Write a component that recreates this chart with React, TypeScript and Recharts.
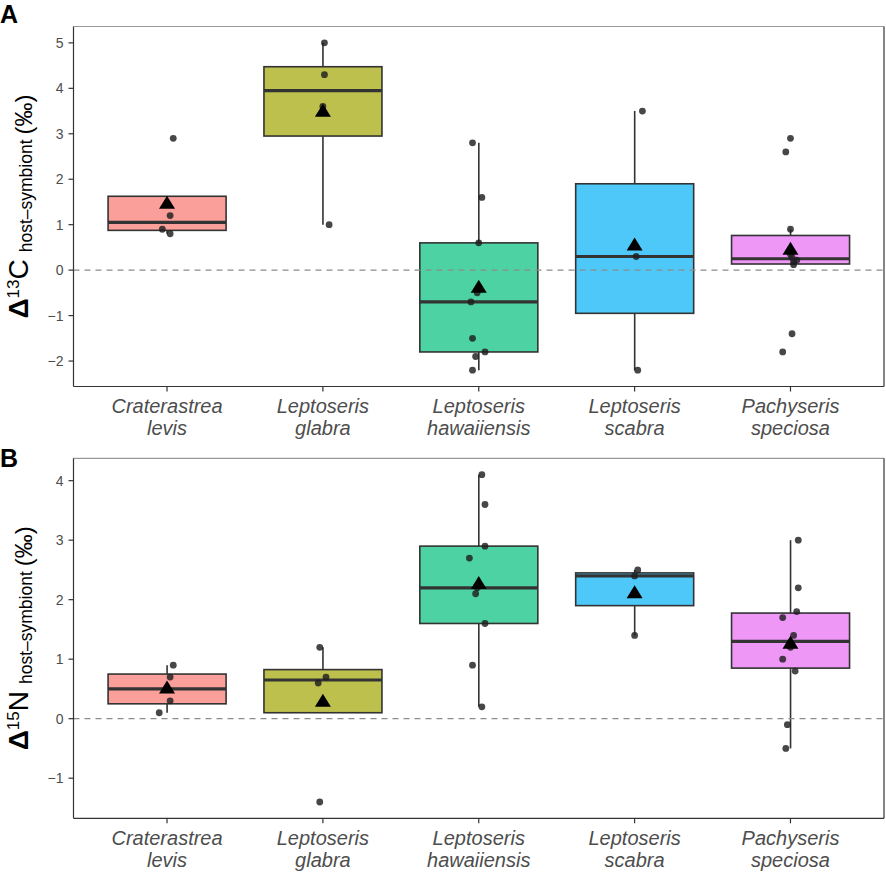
import React from "react";
import { ComposedChart, Bar, Scatter, XAxis, YAxis, ReferenceLine } from "recharts";

// species on the x axis (genus / epithet, printed on two lines)
const GENUS = ["Craterastrea", "Leptoseris", "Leptoseris", "Leptoseris", "Pachyseris"];
const EPITHET = ["levis", "glabra", "hawaiiensis", "scabra", "speciosa"];
const BOX_FILLS = ["#FA9F99", "#BEC04D", "#4DD2A4", "#4DC8F9", "#EE97F7"];
const X_TICKS = [1, 2, 3, 4, 5];

// panel A: Δ13C host-symbiont, one list of samples per species
const C13_VALUES = [
  [2.9, 1.2, 0.9, 0.8],
  [5.0, 4.3, 3.6, 1.0],
  [2.8, 1.6, 0.6, -0.5, -0.7, -1.5, -1.8, -1.9, -2.2],
  [3.5, 0.3, -2.2],
  [2.9, 2.6, 0.9, 0.35, 0.28, 0.22, 0.18, 0.12, -1.4, -1.8],
];
// horizontal jitter of each sample, in category units
const C13_JITTER = [
  [0.04, 0.02, -0.03, 0.02],
  [0.01, 0.01, 0, 0.04],
  [-0.04, 0.02, 0, -0.01, -0.05, -0.04, 0.04, -0.02, -0.04],
  [0.05, 0.01, 0.02],
  [0, -0.03, 0, 0, 0.01, 0.04, 0.02, 0.02, 0.01, -0.05],
];
const C13_TICKS = [-2, -1, 0, 1, 2, 3, 4, 5];

// panel B: Δ15N host-symbiont
const N15_VALUES = [
  [0.9, 0.7, 0.3, 0.1],
  [1.2, 0.7, 0.6, -1.4],
  [4.1, 3.6, 2.9, 2.7, 2.2, 2.1, 1.6, 0.9, 0.2],
  [2.5, 2.4, 1.4],
  [3.0, 2.2, 1.8, 1.7, 1.4, 1.2, 1.0, 0.8, -0.1, -0.5],
];
const N15_JITTER = [
  [0.04, 0.02, 0.02, -0.05],
  [-0.02, 0.02, -0.03, -0.02],
  [0.02, 0.04, 0.04, -0.06, -0.01, -0.02, 0.04, -0.04, 0.02],
  [0.02, 0, 0],
  [0.05, 0.05, 0.04, -0.05, 0.02, 0, -0.05, 0.03, -0.02, -0.03],
];
const N15_TICKS = [-1, 0, 1, 2, 3, 4];

const FONT = "'Liberation Sans', Arial, Helvetica, sans-serif";
const INK = "#333333";
const TEXT_GREY = "#4D4D4D";

function quantile(sorted: number[], p: number) {
  const h = (sorted.length - 1) * p;
  const lo = Math.floor(h);
  const hi = Math.ceil(h);
  return sorted[lo] + (h - lo) * (sorted[hi] - sorted[lo]);
}

// same stats as geom_boxplot (type 7 quantiles, 1.5 IQR whiskers)
function buildBoxes(values: number[][]) {
  return values.map((vals, i) => {
    const s = [...vals].sort((a, b) => a - b);
    const q1 = quantile(s, 0.25);
    const med = quantile(s, 0.5);
    const q3 = quantile(s, 0.75);
    const iqr = q3 - q1;
    const inside = s.filter((v) => v >= q1 - 1.5 * iqr && v <= q3 + 1.5 * iqr);
    const wlo = inside[0];
    const whi = inside[inside.length - 1];
    const mean = s.reduce((a, b) => a + b, 0) / s.length;
    return {
      x: i + 1,
      q1,
      med,
      q3,
      wlo,
      whi,
      mean,
      fill: BOX_FILLS[i],
      range: [Math.min(wlo, q1), Math.max(whi, q3)],
    };
  });
}

function buildPoints(values: number[][], jitter: number[][]) {
  const out: { x: number; y: number }[] = [];
  values.forEach((vals, i) => {
    vals.forEach((v, j) => out.push({ x: i + 1 + jitter[i][j], y: v }));
  });
  return out;
}

function BoxShape(props: any) {
  const { x, y, width, height, payload } = props;
  const [lo, hi] = payload.range;
  const top = Math.min(y, y + height);
  const h = Math.abs(height);
  const py = (v: number) => top + ((hi - v) / (hi - lo)) * h;
  const cx = x + width / 2;
  return (
    <g>
      <line x1={cx} x2={cx} y1={py(payload.whi)} y2={py(payload.q3)} stroke={INK} strokeWidth={1.6} />
      <line x1={cx} x2={cx} y1={py(payload.q1)} y2={py(payload.wlo)} stroke={INK} strokeWidth={1.6} />
      <rect
        x={x}
        y={py(payload.q3)}
        width={width}
        height={py(payload.q1) - py(payload.q3)}
        fill={payload.fill}
        stroke={INK}
        strokeWidth={1.6}
      />
      <line x1={x} x2={x + width} y1={py(payload.med)} y2={py(payload.med)} stroke={INK} strokeWidth={3.2} />
    </g>
  );
}

function DotShape(props: any) {
  const { cx, cy } = props;
  return <circle cx={cx} cy={cy} r={3.4} fill="#1f1f1f" fillOpacity={0.82} />;
}

function TriangleShape(props: any) {
  const { cx, cy } = props;
  return <polygon points={`${cx - 8},${cy + 4.5} ${cx + 8},${cy + 4.5} ${cx},${cy - 8.5}`} fill="#000" />;
}

function SpeciesTick(props: any) {
  const { x, y, payload } = props;
  const i = Math.round(payload.value) - 1;
  return (
    <text x={x} y={y} textAnchor="middle" fontStyle="italic" fontSize={20} fill={TEXT_GREY} fontFamily={FONT}>
      <tspan x={x} dy={19.5}>{GENUS[i]}</tspan>
      <tspan x={x} dy={22}>{EPITHET[i]}</tspan>
    </text>
  );
}

function YLabel(props: any) {
  const { cy, iso, element } = props;
  return (
    <text
      transform={`translate(28,${cy}) rotate(-90)`}
      textAnchor="middle"
      fontFamily={FONT}
      fill="#000"
    >
      <tspan fontWeight="bold" fontSize={28}>Δ</tspan>
      <tspan fontSize={17} dy={-9}>{iso}</tspan>
      <tspan fontSize={28} dy={9}>{element}</tspan>
      <tspan fontSize={17.5} dy={4} dx={7}>host–symbiont</tspan>
      <tspan fontSize={24} dx={5}>(‰)</tspan>
    </text>
  );
}

const fmt = (v: number) => String(v).replace("-", "−");

function Panel(props: {
  values: number[][];
  jitter: number[][];
  domain: [number, number];
  ticks: number[];
  iso: string;
  element: string;
  height: number;
  top: number;
  xAxisHeight: number;
}) {
  const boxes = buildBoxes(props.values);
  const points = buildPoints(props.values, props.jitter);
  const means = boxes.map((b) => ({ x: b.x, y: b.mean }));
  const plotMid = props.top + 1 + (props.height - props.top - 1 - props.xAxisHeight) / 2;
  return (
    <ComposedChart
      width={886}
      height={props.height}
      data={boxes}
      margin={{ top: props.top, right: 1, bottom: 0, left: 0 }}
    >
      <XAxis
        dataKey="x"
        type="number"
        domain={[0.4, 5.6]}
        ticks={X_TICKS}
        allowDataOverflow
        height={props.xAxisHeight}
        axisLine={{ stroke: INK, strokeWidth: 1.2 }}
        tickLine={{ stroke: INK, strokeWidth: 1.2 }}
        tickSize={5}
        tick={<SpeciesTick />}
        interval={0}
      />
      {/* points live on a hidden twin axis so the box band width stays one category */}
      <XAxis
        xAxisId="pts"
        dataKey="x"
        orientation="top"
        type="number"
        domain={[0.4, 5.6]}
        allowDataOverflow
        height={1}
        tick={false}
        tickLine={false}
        axisLine={{ stroke: "#9a9a9a", strokeWidth: 1.2 }}
      />
      <YAxis
        type="number"
        domain={props.domain}
        ticks={props.ticks}
        allowDataOverflow
        width={73.5}
        tickSize={5}
        tickMargin={5}
        tickFormatter={fmt}
        axisLine={{ stroke: INK, strokeWidth: 1.2 }}
        tickLine={{ stroke: INK, strokeWidth: 1.2 }}
        tick={{ fill: TEXT_GREY, fontSize: 14, fontFamily: FONT }}
        interval={0}
        label={<YLabel cy={plotMid} iso={props.iso} element={props.element} />}
      />
      <YAxis
        yAxisId="right"
        orientation="right"
        type="number"
        domain={props.domain}
        width={1}
        tick={false}
        tickLine={false}
        axisLine={{ stroke: INK, strokeWidth: 1.2 }}
      />
      <Bar dataKey="range" barSize={118} shape={<BoxShape />} isAnimationActive={false} />
      <ReferenceLine y={0} stroke="#8c8c8c" strokeWidth={1.2} strokeDasharray="6 5" />
      <Scatter xAxisId="pts" data={points} dataKey="y" shape={<DotShape />} isAnimationActive={false} />
      <Scatter xAxisId="pts" data={means} dataKey="y" shape={<TriangleShape />} isAnimationActive={false} />
    </ComposedChart>
  );
}

export default function App() {
  return (
    <div style={{ position: "absolute", left: 0, top: 0, width: 886, height: 873, background: "#fff" }}>
      <Panel
        values={C13_VALUES}
        jitter={C13_JITTER}
        domain={[-2.56, 5.36]}
        ticks={C13_TICKS}
        iso="13"
        element="C"
        height={440}
        top={25.5}
        xAxisHeight={53.5}
      />
      <Panel
        values={N15_VALUES}
        jitter={N15_JITTER}
        domain={[-1.674, 4.376]}
        ticks={N15_TICKS}
        iso="15"
        element="N"
        height={433}
        top={17.3}
        xAxisHeight={54.7}
      />
      <svg width={886} height={873} style={{ position: "absolute", left: 0, top: 0, pointerEvents: "none" }}>
        <text x={0} y={23} fontFamily={FONT} fontWeight="bold" fontSize={25}>A</text>
        <text x={0} y={467} fontFamily={FONT} fontWeight="bold" fontSize={25}>B</text>
      </svg>
    </div>
  );
}
